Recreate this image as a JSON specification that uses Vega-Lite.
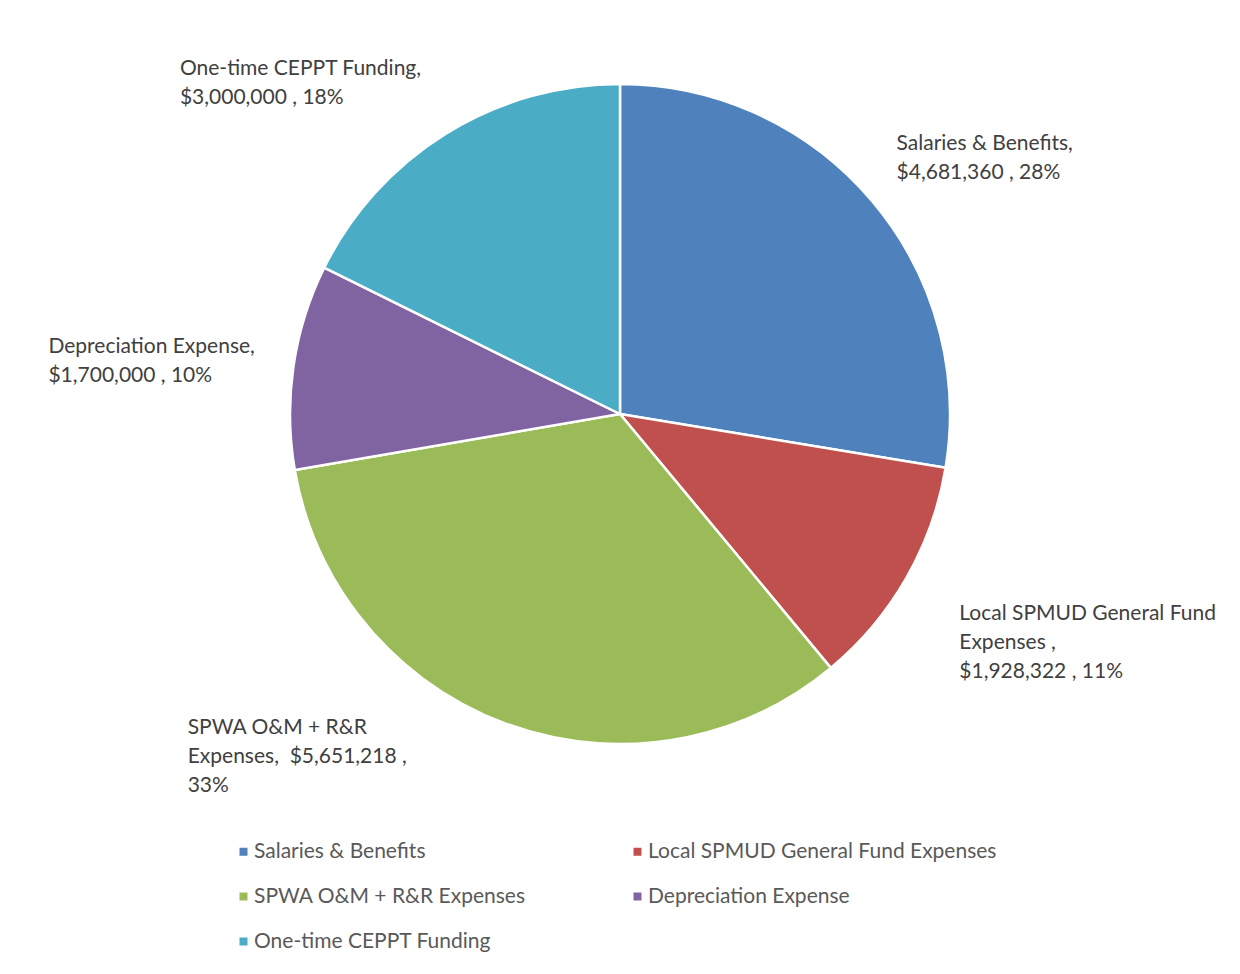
{
  "$schema": "https://vega.github.io/schema/vega-lite/v6.json",
  "width": 1240,
  "height": 828,
  "autosize": {"type": "none"},
  "padding": {"left": 0, "right": 0, "top": 0, "bottom": 146},
  "background": "white",
  "config": {"view": {"stroke": null}},
  "data": {
    "values": [
      {"category": "Salaries & Benefits", "value": 4681360, "order": 1, "label": "Salaries & Benefits,\n$4,681,360 , 28%"},
      {"category": "Local SPMUD General Fund Expenses", "value": 1928322, "order": 2, "label": "Local SPMUD General Fund\nExpenses ,\n\u2002$1,928,322 , 11%"},
      {"category": "SPWA O&M + R&R Expenses", "value": 5651218, "order": 3, "label": "SPWA O&M + R&R\nExpenses,\u00a0 $5,651,218 ,\n33%"},
      {"category": "Depreciation Expense", "value": 1700000, "order": 4, "label": "Depreciation Expense,\n$1,700,000 , 10%"},
      {"category": "One-time CEPPT Funding", "value": 3000000, "order": 5, "label": "One-time CEPPT Funding,\n$3,000,000 , 18%"}
    ]
  },
  "encoding": {
    "theta": {"field": "value", "type": "quantitative", "stack": true},
    "order": {"field": "order", "type": "quantitative"}
  },
  "layer": [
    {
      "mark": {"type": "arc", "outerRadius": 330, "stroke": "white", "strokeWidth": 2.5},
      "encoding": {
        "color": {
          "field": "category",
          "type": "nominal",
          "scale": {
            "domain": ["Salaries & Benefits", "Local SPMUD General Fund Expenses", "SPWA O&M + R&R Expenses", "Depreciation Expense", "One-time CEPPT Funding"],
            "range": ["#4F81BD", "#C0504D", "#9BBB59", "#8064A2", "#4BACC6"]
          },
          "legend": {
            "title": null,
            "orient": "none",
            "legendX": 233,
            "legendY": 841,
            "direction": "horizontal",
            "columns": 2,
            "columnPadding": 101,
            "rowPadding": 23,
            "symbolType": "square",
            "symbolSize": 64,
            "symbolStrokeWidth": 0,
            "labelFont": "Lato",
            "labelFontSize": 21,
            "labelColor": "#595959",
            "labelOffset": 0,
            "labelLimit": 600
          }
        }
      }
    },
    {
      "mark": {
        "type": "text",
        "radius": 330,
        "align": "left",
        "baseline": "top",
        "lineBreak": "\n",
        "lineHeight": 29,
        "font": "Lato",
        "fontSize": 21,
        "color": "#404040",
        "dx": {"expr": "datum.order == 1 ? 25 : datum.order == 2 ? 53 : datum.order == 3 ? -318 : datum.order == 4 ? -245 : -266"},
        "dy": {"expr": "datum.order == 1 ? -67 : datum.order == 2 ? 25 : datum.order == 3 ? -7 : datum.order == 4 ? -30 : -76"}
      },
      "encoding": {
        "text": {"field": "label", "type": "nominal"}
      }
    }
  ]
}
